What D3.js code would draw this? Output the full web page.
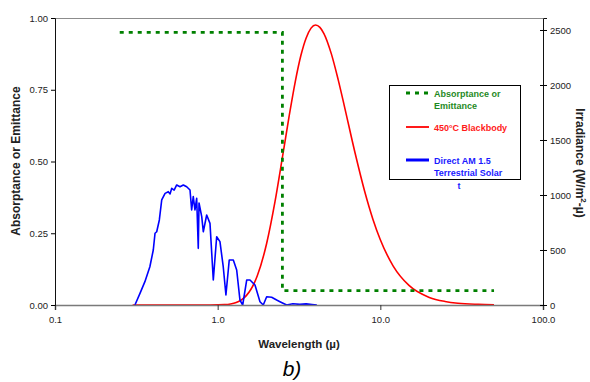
<!DOCTYPE html>
<html>
<head>
<meta charset="utf-8">
<script src="https://cdn.jsdelivr.net/npm/d3@7"></script>
<style>
  html, body { margin: 0; padding: 0; background: #fff; }
  svg { display: block; }
  text { font-family: "Liberation Sans", Arial, sans-serif; }
</style>
</head>
<body>
<svg id="chart" width="590" height="382"></svg>
<script>
// ---- Data ----
const xTicks = [0.1, 1, 10, 100];
const xTickLabels = ["0.1", "1.0", "10.0", "100.0"];
const leftTicks = [0, 0.25, 0.5, 0.75, 1];
const leftTickLabels = ["0.00", "0.25", "0.50", "0.75", "1.00"];
const rightTicks = [0, 500, 1000, 1500, 2000, 2500];
const rightTickLabels = ["0", "500", "1000", "1500", "2000", "2500"];

// Absorptance / emittance step (left axis)
const absWavelength = [0.25, 2.5, 2.5, 50];
const absValue = [0.95, 0.95, 0.05, 0.05];

// 450°C blackbody spectral emissive power (right axis, W/m²-µ)
const bbWavelength = [0.3, 0.5, 0.8, 0.9, 1.0, 1.1, 1.2, 1.3, 1.4, 1.5, 1.75, 2.0, 2.25, 2.5, 2.75, 3.0, 3.25, 3.5, 3.75, 4.0, 4.25, 4.5, 5.0, 5.5, 6.0, 7.0, 8.0, 9.0, 10, 12, 15, 20, 25, 30, 40, 50];
const bbValue = [0, 0, 0, 0.2, 0.9, 3, 9.5, 23, 47, 85, 263, 559, 937, 1341, 1716, 2031, 2270, 2428, 2517, 2545, 2524, 2468, 2283, 2051, 1813, 1379, 1036, 780, 593, 354, 178, 69, 32, 16, 6, 2.5];

// Direct AM 1.5 terrestrial solar spectrum (right axis, W/m²-µ)
const solarWavelength = [0.31, 0.333, 0.357, 0.383, 0.402, 0.412, 0.422, 0.438, 0.453, 0.475, 0.497, 0.51, 0.522, 0.54, 0.56, 0.587, 0.615, 0.645, 0.676, 0.692, 0.708, 0.725, 0.743, 0.76, 0.768, 0.798, 0.816, 0.856, 0.897, 0.94, 0.986, 1.033, 1.082, 1.124, 1.178, 1.248, 1.309, 1.371, 1.425, 1.508, 1.58, 1.696, 1.82, 1.907, 2.001, 2.147, 2.305, 2.415, 2.656, 2.9, 3.2, 3.5, 3.8, 4.07];
const solarValue = [0, 106, 212, 348, 500, 652, 666, 773, 955, 1015, 1030, 1010, 1061, 1045, 1091, 1075, 1091, 1075, 1045, 864, 985, 864, 970, 515, 927, 803, 666, 818, 742, 227, 621, 576, 348, 91, 409, 409, 318, 45, 0, 227, 227, 182, 30, 0, 75, 70, 45, 30, 0, 12, 6, 10, 5, 0];

// ---- Layout ----
const svg = d3.select("#chart");
const L = 55, R = 543, T = 18, B = 305;

const x = d3.scaleLog().domain([0.1, 100]).range([L, R]);
const yL = d3.scaleLinear().domain([0, 1]).range([B, T]);
const yR = d3.scaleLinear().domain([0, 2609]).range([B, T]);

// top border
svg.append("line").attr("x1", L).attr("x2", R).attr("y1", T + 0.5).attr("y2", T + 0.5)
  .attr("stroke", "#8c8c8c").attr("stroke-width", 1.2);

// ---- Series ----
const bbLine = d3.line().x((d, i) => x(bbWavelength[i])).y(d => yR(d)).curve(d3.curveMonotoneX);
svg.append("path").attr("d", bbLine(bbValue))
  .attr("fill", "none").attr("stroke", "#ff0000").attr("stroke-width", 1.6);

const solarLine = d3.line().x((d, i) => x(solarWavelength[i])).y(d => yR(d));
svg.append("path").attr("d", solarLine(solarValue))
  .attr("fill", "none").attr("stroke", "#0000ff").attr("stroke-width", 1.6)
  .attr("stroke-linejoin", "round");

const absLine = d3.line().x((d, i) => x(absWavelength[i])).y(d => yL(d));
svg.append("path").attr("d", absLine(absValue))
  .attr("fill", "none").attr("stroke", "#008000").attr("stroke-width", 2.8)
  .attr("stroke-dasharray", "4,5");

// ---- Axes ----
// bottom
const xAxis = svg.append("g").attr("transform", `translate(0,${B})`)
  .call(d3.axisBottom(x).tickValues(xTicks).tickFormat((d, i) => xTickLabels[i]).tickSize(5).tickPadding(6));
xAxis.select(".domain").attr("stroke", "#7a7a7a").attr("stroke-width", 1.6);
xAxis.selectAll(".tick line").attr("stroke", "#333");
xAxis.selectAll("text").attr("font-size", 9.5).attr("fill", "#222").attr("font-family", "Liberation Sans, Arial, sans-serif");

// left
const yAxisL = svg.append("g").attr("transform", `translate(${L},0)`)
  .call(d3.axisLeft(yL).tickValues(leftTicks).tickFormat((d, i) => leftTickLabels[i]).tickSize(4).tickPadding(3));
yAxisL.select(".domain").attr("stroke", "#111");
yAxisL.selectAll("text").attr("font-size", 9.5).attr("fill", "#222").attr("font-family", "Liberation Sans, Arial, sans-serif");

// right
const yAxisR = svg.append("g").attr("transform", `translate(${R},0)`)
  .call(d3.axisRight(yR).tickValues(rightTicks).tickFormat((d, i) => rightTickLabels[i]).tickSize(4).tickPadding(3));
yAxisR.select(".domain").attr("stroke", "#111");
yAxisR.selectAll(".tick line").attr("x1", -3);
yAxisR.selectAll("text").attr("font-size", 9.5).attr("fill", "#222").attr("font-family", "Liberation Sans, Arial, sans-serif");

// ---- Titles ----
svg.append("text").attr("transform", "translate(20,161) rotate(-90)")
  .attr("text-anchor", "middle").attr("font-size", 12).attr("font-weight", "bold").attr("fill", "#222")
  .text("Absorptance or Emittance");

const rt = svg.append("text").attr("transform", "translate(576,163) rotate(90)")
  .attr("text-anchor", "middle").attr("font-size", 12).attr("font-weight", "bold").attr("fill", "#222");
rt.append("tspan").text("Irradiance (W/m");
rt.append("tspan").attr("font-size", 8).attr("dy", -5).text("2");
rt.append("tspan").attr("dy", 5).text("-µ)");

svg.append("text").attr("x", 299).attr("y", 348).attr("text-anchor", "middle")
  .attr("font-size", 11.5).attr("font-weight", "bold").attr("fill", "#222")
  .text("Wavelength (µ)");

svg.append("text").attr("x", 292).attr("y", 376).attr("text-anchor", "middle")
  .attr("font-size", 21).attr("font-style", "italic").attr("fill", "#000")
  .text("b)");

// ---- Legend ----
const lg = svg.append("g");
lg.append("rect").attr("x", 389.5).attr("y", 85.5).attr("width", 131).attr("height", 94)
  .attr("fill", "#fff").attr("stroke", "#000").attr("stroke-width", 1);

const legendItems = [
  { color: "#008000", dash: "4,5", width: 2.8, y: 93, lines: ["Absorptance or", "Emittance"], text: "#1f8a1f" },
  { color: "#ff0000", dash: null, width: 1.8, y: 127, lines: ["450°C Blackbody"], text: "#ff1a1a" },
  { color: "#0000ff", dash: null, width: 3, y: 160, lines: ["Direct AM 1.5", "Terrestrial Solar"], text: "#1a1aff" }
];
legendItems.forEach(it => {
  const ln = lg.append("line").attr("x1", 406).attr("x2", 429).attr("y1", it.y).attr("y2", it.y)
    .attr("stroke", it.color).attr("stroke-width", it.width);
  if (it.dash) ln.attr("stroke-dasharray", it.dash);
  it.lines.forEach((t, k) => {
    lg.append("text").attr("x", 434).attr("y", it.y + 3.5 + k * 12)
      .attr("font-size", 9).attr("font-weight", "bold").attr("fill", it.text).text(t);
  });
});
lg.append("text").attr("x", 459).attr("y", 189).attr("text-anchor", "middle")
  .attr("font-size", 9).attr("font-weight", "bold").attr("fill", "#1a1aff").text("t");
</script>
</body>
</html>
